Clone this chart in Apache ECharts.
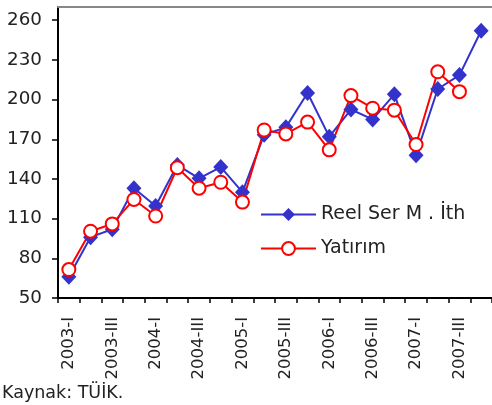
<!DOCTYPE html>
<html>
<head>
<meta charset="utf-8">
<script src="https://cdn.jsdelivr.net/npm/echarts@6/dist/echarts.min.js"></script>
<style>
  html, body { margin: 0; padding: 0; background: #fff; }
  #main { width: 492px; height: 405px; }
</style>
</head>
<body>
<div id="main"></div>
<script>
// çeyrekler
var quarters = [
  "2003-I", "2003-II", "2003-III", "2003-IV",
  "2004-I", "2004-II", "2004-III", "2004-IV",
  "2005-I", "2005-II", "2005-III", "2005-IV",
  "2006-I", "2006-II", "2006-III", "2006-IV",
  "2007-I", "2007-II", "2007-III", "2007-IV"
]
var reelSerMIth = [66, 96, 102, 133, 119.5, 150.5, 140.5, 149, 130, 173.5, 179, 205, 172, 192.5, 185, 204, 158, 208, 218.5, 252]
var yatirim = [71.5, 100.5, 106, 124.5, 112, 148.5, 133, 137.5, 122.5, 177, 174, 183, 162, 203, 193.5, 192, 166, 221, 206, "-"]
var yTicks = [50, 80, 110, 140, 170, 200, 230, 260]

var font = "DejaVu Sans"
var chart = echarts.init(document.getElementById("main"))

var option = {
  animation: false,
  grid: { left: 58, right: -6, top: 7, bottom: 107, containLabel: false },
  legend: {
    orient: "vertical",
    left: 255,
    top: 200,
    itemWidth: 55,
    itemHeight: 16,
    itemGap: 15,
    textStyle: { fontFamily: font, fontSize: 19, color: "#222" },
    data: ["Reel Ser M . İth", "Yatırım"]
  },
  title: {
    text: "Kaynak: TÜİK.",
    left: 2,
    top: 384,
    padding: 0,
    textStyle: { fontFamily: font, fontSize: 17.5, fontWeight: "normal", color: "#222" }
  },
  xAxis: [
    {
      type: "category",
      data: quarters,
      boundaryGap: true,
      axisLine: { lineStyle: { color: "#000", width: 2 } },
      axisTick: { show: true, interval: 0, length: 5, lineStyle: { color: "#000", width: 1.5 } },
      axisLabel: {
        interval: 1,
        rotate: 90,
        margin: 19,
        padding: [0, 0, 12, 0],
        fontFamily: font,
        fontSize: 16.5,
        color: "#222"
      },
      splitLine: { show: false }
    },
    {
      type: "category",
      data: quarters,
      position: "top",
      axisLine: { lineStyle: { color: "#888", width: 2 } },
      axisTick: { show: false },
      axisLabel: { show: false },
      splitLine: { show: false }
    }
  ],
  yAxis: {
    type: "value",
    min: 50,
    max: 270,
    interval: 30,
    axisLine: { show: true, lineStyle: { color: "#000", width: 2 } },
    axisTick: { show: true, length: 6, customValues: yTicks, lineStyle: { color: "#000", width: 1.5 } },
    axisLabel: { customValues: yTicks, margin: 16, fontFamily: font, fontSize: 18.3, color: "#222" },
    splitLine: { show: false }
  },
  series: [
    {
      name: "Reel Ser M . İth",
      type: "line",
      data: reelSerMIth,
      symbol: "diamond",
      symbolSize: [15, 16],
      showAllSymbol: true,
      lineStyle: { color: "#3333cc", width: 2 },
      itemStyle: { color: "#3333cc" }
    },
    {
      name: "Yatırım",
      type: "line",
      data: yatirim,
      symbol: "emptyCircle",
      symbolSize: 13,
      showAllSymbol: true,
      lineStyle: { color: "#ff0000", width: 2 },
      itemStyle: { color: "#ff0000", borderWidth: 2 }
    }
  ]
}

chart.setOption(option)
</script>
</body>
</html>
